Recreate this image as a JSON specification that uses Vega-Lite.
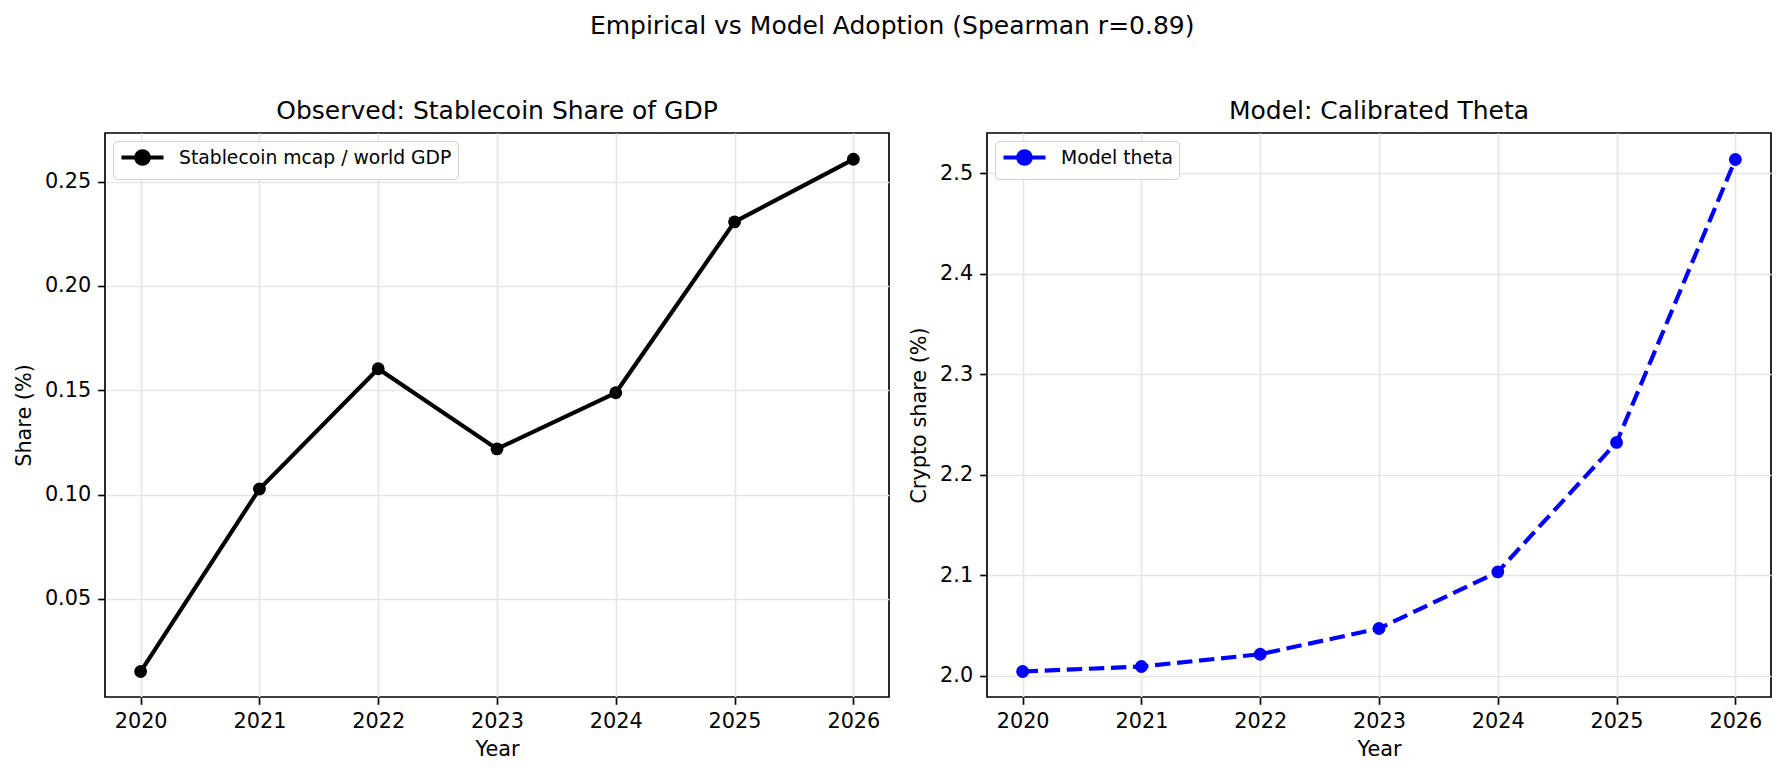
{
  "$schema": "https://vega.github.io/schema/vega-lite/v6.json",
  "title": {
    "text": "Empirical vs Model Adoption (Spearman r=0.89)",
    "fontSize": 25,
    "fontWeight": "normal",
    "anchor": "middle",
    "offset": 59
  },
  "padding": {"left": 12, "top": 14, "right": 10, "bottom": 5},
  "background": "white",
  "config": {
    "font": "DejaVu Sans",
    "view": {"stroke": "black", "strokeWidth": 1.67},
    "axis": {
      "domain": false,
      "grid": true,
      "gridColor": "#e6e6e6",
      "gridWidth": 1.67,
      "tickColor": "black",
      "tickWidth": 1.67,
      "tickSize": 7.3,
      "labelPadding": 7,
      "labelFontSize": 20.8,
      "labelColor": "black",
      "labelFlush": false,
      "labelOverlap": false,
      "titleFontSize": 20.8,
      "titleFontWeight": "normal",
      "titleColor": "black"
    },
    "title": {"fontSize": 25, "fontWeight": "normal", "color": "black", "offset": 9},
    "legend": {
      "orient": "top-left",
      "offset": 8,
      "labelFontSize": 18.75,
      "labelColor": "black",
      "labelLimit": 0,
      "strokeColor": "#d0d0d0",
      "fillColor": "white",
      "cornerRadius": 4,
      "padding": 6,
      "symbolSize": 256,
      "labelOffset": 39,
      "symbolType": "M-1,0H4.25M0.845,0A0.78,0.78,0,1,1,2.405,0A0.78,0.78,0,1,1,0.845,0Z",
      "symbolStrokeWidth": 4.17
    }
  },
  "datasets": {
    "observed": [
      {"year": 2020, "share": 0.0152},
      {"year": 2021, "share": 0.1027},
      {"year": 2022, "share": 0.1603},
      {"year": 2023, "share": 0.1219},
      {"year": 2024, "share": 0.1488},
      {"year": 2025, "share": 0.2307},
      {"year": 2026, "share": 0.2607}
    ],
    "model": [
      {"year": 2020, "theta": 2.0044},
      {"year": 2021, "theta": 2.0093},
      {"year": 2022, "theta": 2.0215},
      {"year": 2023, "theta": 2.0471},
      {"year": 2024, "theta": 2.1034},
      {"year": 2025, "theta": 2.2322},
      {"year": 2026, "theta": 2.5136}
    ]
  },
  "bounds": "flush",
  "spacing": 98,
  "resolve": {"scale": {"color": "independent"}, "legend": {"color": "independent"}},
  "hconcat": [
    {
      "title": "Observed: Stablecoin Share of GDP",
      "width": 784,
      "height": 564,
      "data": {"name": "observed"},
      "encoding": {
        "x": {
          "field": "year",
          "type": "quantitative",
          "title": "Year",
          "scale": {"domain": [2019.7, 2026.3], "nice": false, "zero": false},
          "axis": {"values": [2020, 2021, 2022, 2023, 2024, 2025, 2026], "format": "d", "titlePadding": 8}
        },
        "y": {
          "field": "share",
          "type": "quantitative",
          "title": "Share (%)",
          "scale": {"domain": [0.003, 0.2733], "nice": false, "zero": false},
          "axis": {"values": [0.05, 0.1, 0.15, 0.2, 0.25], "format": ".2f", "titlePadding": 10}
        },
        "color": {
          "datum": "Stablecoin mcap / world GDP",
          "type": "nominal",
          "scale": {"range": ["black"]},
          "legend": {"title": null, "symbolFillColor": "black"}
        }
      },
      "layer": [
        {"mark": {"type": "line", "strokeWidth": 4.17}},
        {"mark": {"type": "point", "filled": true, "size": 165, "opacity": 1}}
      ]
    },
    {
      "title": "Model: Calibrated Theta",
      "width": 784,
      "height": 564,
      "data": {"name": "model"},
      "encoding": {
        "x": {
          "field": "year",
          "type": "quantitative",
          "title": "Year",
          "scale": {"domain": [2019.7, 2026.3], "nice": false, "zero": false},
          "axis": {"values": [2020, 2021, 2022, 2023, 2024, 2025, 2026], "format": "d", "titlePadding": 8}
        },
        "y": {
          "field": "theta",
          "type": "quantitative",
          "title": "Crypto share (%)",
          "scale": {"domain": [1.979, 2.54], "nice": false, "zero": false},
          "axis": {"values": [2.0, 2.1, 2.2, 2.3, 2.4, 2.5], "format": ".1f", "titlePadding": 10}
        },
        "color": {
          "datum": "Model theta",
          "type": "nominal",
          "scale": {"range": ["#0000ff"]},
          "legend": {"title": null, "symbolFillColor": "#0000ff"}
        }
      },
      "layer": [
        {"mark": {"type": "line", "strokeWidth": 4.17, "strokeDash": [15.4, 6.7]}},
        {"mark": {"type": "point", "filled": true, "size": 165, "opacity": 1}}
      ]
    }
  ]
}
